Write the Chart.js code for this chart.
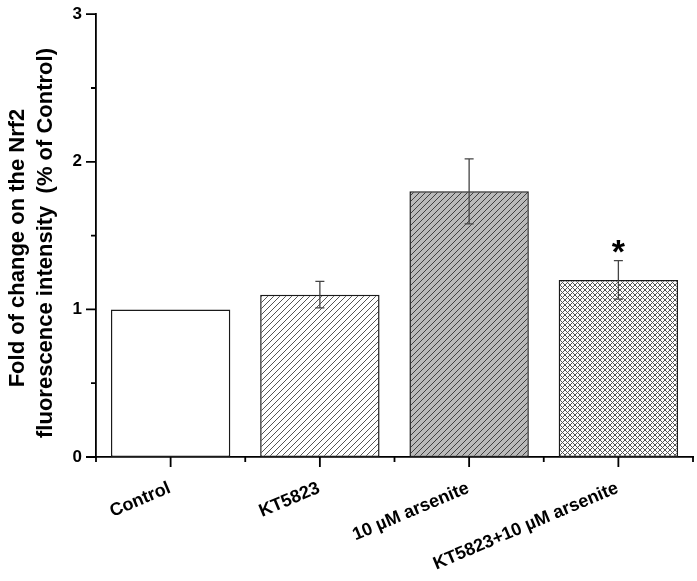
<!DOCTYPE html>
<html>
<head>
<meta charset="utf-8">
<script src="https://cdn.jsdelivr.net/npm/chart.js@4.4.1/dist/chart.umd.min.js"></script>
<style>
  html, body { margin: 0; padding: 0; background: #ffffff; }
  #wrap { width: 697px; height: 581px; }
</style>
</head>
<body>
<div id="wrap"><canvas id="nrf2Chart" width="697" height="581"></canvas></div>
<script>
// values
const categories = ['Control', 'KT5823', '10 µM arsenite', 'KT5823+10 µM arsenite'];
const foldValues = [1.0, 1.1, 1.8, 1.2];
const errorValues = [0, 0.09, 0.22, 0.13];
const sigMarks = ['', '', '', '*'];
const yTickLabels = [0, 1, 2, 3];
const titleLines = ['Fold of change on the Nrf2', 'fluorescence intensity  (% of Control)'];

const FONT = '"Liberation Sans", Arial, sans-serif';

function hatch(bg, fg, size, cross) {
  const c = document.createElement('canvas');
  c.width = size;
  c.height = size;
  const g = c.getContext('2d');
  g.fillStyle = bg;
  g.fillRect(0, 0, size, size);
  g.strokeStyle = fg;
  g.lineWidth = 1;
  g.beginPath();
  g.moveTo(0, size); g.lineTo(size, 0);
  g.moveTo(-1, 1); g.lineTo(1, -1);
  g.moveTo(size - 1, size + 1); g.lineTo(size + 1, size - 1);
  if (cross) {
    g.moveTo(0, 0); g.lineTo(size, size);
    g.moveTo(-1, size - 1); g.lineTo(1, size + 1);
    g.moveTo(size - 1, -1); g.lineTo(size + 1, 1);
  }
  g.stroke();
  return g.createPattern(c, 'repeat');
}

const barFills = [
  '#ffffff',
  hatch('#ffffff', '#555555', 6, false),
  hatch('#bababa', '#404040', 6, false),
  hatch('#ffffff', '#555555', 5, true)
];

// ticks drawn by hand so minor ticks can be shorter
const axisTicks = {
  id: 'axisTicks',
  afterDraw(chart) {
    const ctx = chart.ctx;
    const xs = chart.scales.x;
    const ys = chart.scales.y;
    const area = chart.chartArea;
    ctx.save();
    ctx.strokeStyle = '#000';
    ctx.lineWidth = 1.8;
    ctx.beginPath();
    ys.ticks.forEach(t => {
      const y = ys.getPixelForValue(t.value);
      const len = Number.isInteger(t.value) ? 10 : 5;
      ctx.moveTo(area.left, y);
      ctx.lineTo(area.left - len, y);
    });
    const step = xs.getPixelForValue(1) - xs.getPixelForValue(0);
    categories.forEach((c, i) => {
      const x = xs.getPixelForValue(i);
      ctx.moveTo(x, area.bottom);
      ctx.lineTo(x, area.bottom + 10);
    });
    for (let k = 0; k <= categories.length; k++) {
      const x = xs.getPixelForValue(0) - step / 2 + k * step;
      ctx.moveTo(x, area.bottom);
      ctx.lineTo(x, area.bottom + 5);
    }
    ctx.stroke();

    // slanted category labels, right end sitting under each tick
    ctx.fillStyle = '#000';
    ctx.font = 'bold 18px ' + FONT;
    ctx.textAlign = 'right';
    ctx.textBaseline = 'alphabetic';
    categories.forEach((c, i) => {
      ctx.save();
      ctx.translate(xs.getPixelForValue(i) + 1, area.bottom + 35);
      ctx.rotate(-23 * Math.PI / 180);
      ctx.fillText(c, 0, 0);
      ctx.restore();
    });
    ctx.restore();
  }
};

const errorBars = {
  id: 'errorBars',
  afterDatasetsDraw(chart) {
    const ctx = chart.ctx;
    const ys = chart.scales.y;
    const meta = chart.getDatasetMeta(0);
    ctx.save();
    meta.data.forEach((bar, i) => {
      const err = errorValues[i];
      const top = ys.getPixelForValue(foldValues[i] + err);
      if (err > 0) {
        const bot = ys.getPixelForValue(foldValues[i] - err);
        ctx.strokeStyle = '#444';
        ctx.lineWidth = 1.3;
        ctx.beginPath();
        ctx.moveTo(bar.x, top); ctx.lineTo(bar.x, bot);
        ctx.moveTo(bar.x - 4.5, top); ctx.lineTo(bar.x + 4.5, top);
        ctx.moveTo(bar.x - 4.5, bot); ctx.lineTo(bar.x + 4.5, bot);
        ctx.stroke();
      }
      if (sigMarks[i]) {
        ctx.fillStyle = '#000';
        ctx.font = 'bold 34px ' + FONT;
        ctx.textAlign = 'center';
        ctx.textBaseline = 'alphabetic';
        ctx.fillText(sigMarks[i], bar.x, top + 2);
      }
    });
    ctx.restore();
  }
};

const yTitle = {
  id: 'yTitle',
  afterDraw(chart) {
    const ctx = chart.ctx;
    ctx.save();
    ctx.fillStyle = '#000';
    ctx.font = 'bold 22px ' + FONT;
    ctx.textAlign = 'center';
    ctx.textBaseline = 'alphabetic';
    ctx.translate(0, 245);
    ctx.rotate(-Math.PI / 2);
    ctx.fillText(titleLines[0], -3, 24);
    ctx.fillText(titleLines[1], 2, 52);
    ctx.restore();
  }
};

new Chart(document.getElementById('nrf2Chart'), {
  type: 'bar',
  data: {
    labels: categories,
    datasets: [{
      data: foldValues,
      backgroundColor: barFills,
      borderColor: '#1a1a1a',
      borderWidth: 1.5,
      borderSkipped: false,
      barPercentage: 0.8,
      categoryPercentage: 1.0
    }]
  },
  options: {
    responsive: false,
    animation: false,
    layout: { padding: { left: 0, right: 4, top: 11, bottom: 0 } },
    plugins: {
      legend: { display: false },
      tooltip: { enabled: false }
    },
    scales: {
      x: {
        offset: true,
        grid: { display: false, tickLength: 10 },
        border: { display: true, color: '#000', width: 1.8 },
        ticks: { display: false },
        afterFit(scale) { scale.height = 124; }
      },
      y: {
        min: 0,
        max: 3,
        grid: { display: false, tickLength: 10 },
        border: { display: true, color: '#000', width: 1.8 },
        ticks: {
          stepSize: 0.5,
          color: '#000',
          font: { family: FONT, size: 17, weight: 'bold' },
          padding: 4,
          callback: v => yTickLabels.includes(v) ? v : ''
        },
        afterFit(scale) { scale.width = 96; }
      }
    }
  },
  plugins: [axisTicks, errorBars, yTitle]
});
</script>
</body>
</html>
